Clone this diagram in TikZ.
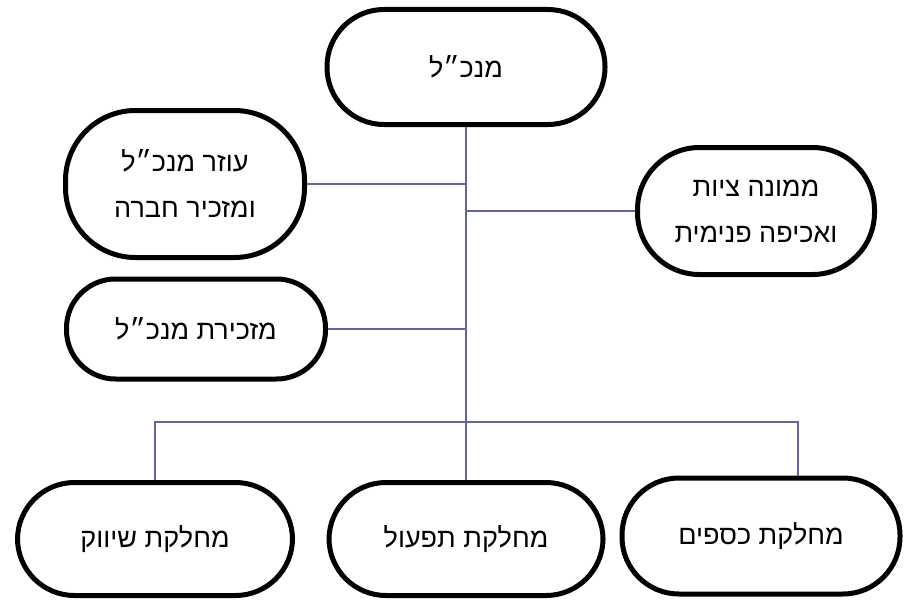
\documentclass[tikz,border=0pt]{standalone}
\usepackage{fontspec}
\newfontfamily\hebfont[Script=Hebrew]{Liberation Sans}
\TeXXeTstate=1
\usetikzlibrary{calc}
\definecolor{linkblue}{RGB}{100,100,160}

\begin{document}
\begin{tikzpicture}[x=1pt,y=-1pt,
  box/.style={draw=black,line width=5pt,rounded corners=57pt,align=center,
    font=\hebfont\fontsize{27}{46}\selectfont,inner sep=0pt},
  link/.style={draw=linkblue,line width=1.5pt}]

\useasboundingbox (0,0) rectangle (905,602);

\node[box,minimum width=278pt,minimum height=115pt] (ceo) at (466,67) {\beginR מנכ״ל\endR};
\node[box,minimum width=239pt,minimum height=147pt,rounded corners=70pt] (asst) at (185,184) {\beginR עוזר מנכ״ל\endR\\\beginR ומזכיר חברה\endR};
\node[box,minimum width=237pt,minimum height=127pt,rounded corners=62pt] (compl) at (756,211) {\beginR ממונה ציות\endR\\\beginR ואכיפה פנימית\endR};
\node[box,minimum width=259pt,minimum height=100pt,rounded corners=49pt] (secr) at (196,329) {\beginR מזכירת מנכ״ל\endR};

\node[box,minimum width=275pt,minimum height=113pt] (mkt) at (155,539) {\beginR מחלקת שיווק\endR};
\node[box,minimum width=274pt,minimum height=113pt] (ops) at (466,539) {\beginR מחלקת תפעול\endR};
\node[box,minimum width=278pt,minimum height=116pt] (fin) at (761,536) {\beginR מחלקת כספים\endR};

\coordinate (bus) at (466,422);

\draw[link] (ceo.south) -- (ops.north);
\draw[link] (asst.east) -- (asst.east -| ceo.south);
\draw[link] (compl.west -| ceo.south) -- (compl.west);
\draw[link] (secr.east) -- (secr.east -| ceo.south);
\draw[link] (mkt.north) |- (bus);
\draw[link] (bus) -| ($(fin.north)+(37,0)$);

\end{tikzpicture}
\end{document}
